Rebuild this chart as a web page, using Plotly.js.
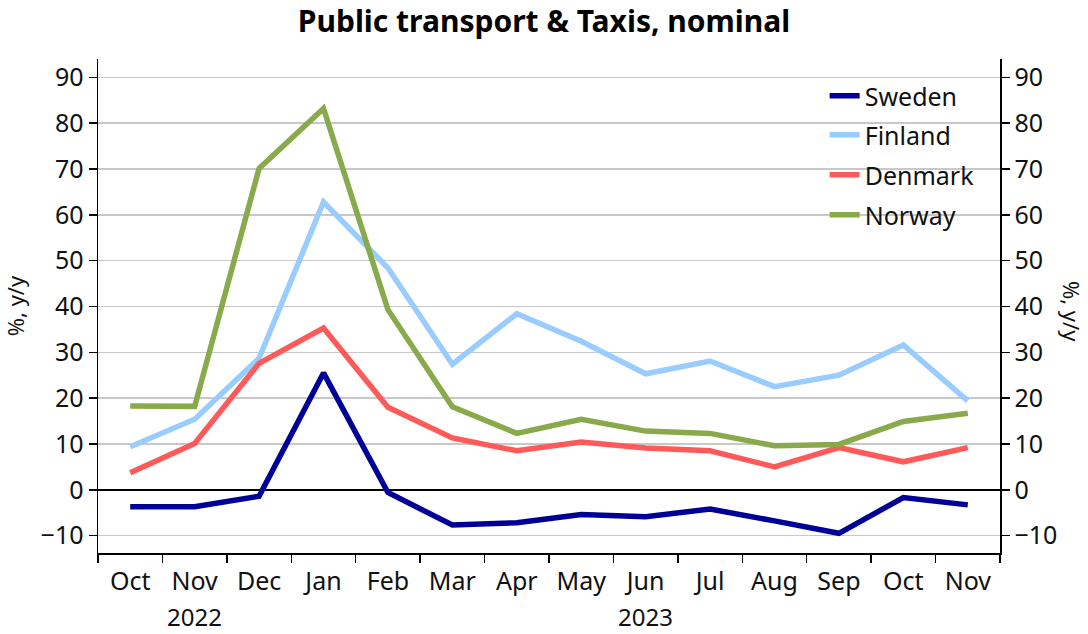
<!DOCTYPE html>
<html><head><meta charset="utf-8">
<script src="https://cdn.plot.ly/plotly-3.0.1.min.js"></script>
<style>html,body{margin:0;padding:0;background:#fff}#chart{width:1088px;height:634px}</style>
</head><body><div id="chart"></div><script>
const months = ['Oct','Nov','Dec','Jan','Feb','Mar','Apr','May','Jun','Jul','Aug','Sep','Oct','Nov'];
const yearLabels = ['2022','2023'];
const yearCenterIdx = [1, 8];
const yTicks = [-10,0,10,20,30,40,50,60,70,80,90];
const sweden  = [-3.7,-3.7,-1.4,25.5,-0.6,-7.7,-7.2,-5.4,-5.9,-4.2,-6.8,-9.5,-1.7,-3.3];
const finland = [9.4,15.4,28.7,62.8,48.4,27.4,38.4,32.4,25.3,28.1,22.5,25.0,31.6,19.4];
const denmark = [3.7,10.1,27.6,35.3,18.0,11.3,8.5,10.4,9.1,8.5,5.0,9.2,6.1,9.2];
const norway  = [18.3,18.2,70.1,83.2,39.3,18.1,12.3,15.4,12.8,12.3,9.6,9.9,14.9,16.7];
const seriesNames = ['Sweden','Finland','Denmark','Norway'];
const seriesValues = [sweden, finland, denmark, norway];
const seriesColors = ['#000099','#99CCFF','#FF5A5A','#88AA4A'];

const FONT = 'Noto Sans, Open Sans, DejaVu Sans, sans-serif';
const xIdx = months.map((m,i)=>i);
const legendIds = ['legend','legend2','legend3','legend4'];
const legendY = [0.925, 0.846, 0.765, 0.684];

const traces = seriesNames.map((n,k)=>({
  type:'scatter', mode:'lines', name:n, x:xIdx, y:seriesValues[k],
  line:{color:seriesColors[k], width:5.5}, legend:legendIds[k], cliponaxis:false
}));

const boundaries = [];
for (let i=0;i<=months.length;i++) boundaries.push(i-0.5);

const layout = {
  width:1088, height:634,
  margin:{l:98, r:88, t:59, b:81},
  paper_bgcolor:'#fff', plot_bgcolor:'#fff',
  font:{family:FONT, color:'#111', size:25},
  title:{text:'<b>Public transport & Taxis, nominal</b>', x:0.5, xanchor:'center', y:0.966, yanchor:'middle',
         font:{family:FONT, size:30, color:'#000'}},
  xaxis:{
    range:[-0.5, months.length-0.5], tickmode:'array', tickvals:xIdx, ticktext:months,
    ticks:'', showgrid:false, zeroline:false, showline:true, linecolor:'#000', linewidth:1.5,
    tickfont:{size:25, family:FONT, color:'#111'}, ticklabelstandoff:5, fixedrange:true,
    minor:{tickmode:'array', tickvals:boundaries, ticks:'outside', ticklen:8, tickwidth:1.5, tickcolor:'#000', showgrid:false}
  },
  yaxis:{
    range:[-13.8, 94.0], tickmode:'array', tickvals:yTicks, ticks:'outside', ticklen:8, tickwidth:1.5, tickcolor:'#000',
    showgrid:true, gridcolor:'#c8c8c8', gridwidth:1.5, zeroline:true, zerolinecolor:'#000', zerolinewidth:1.5,
    showline:true, linecolor:'#000', linewidth:1.5, tickfont:{size:25, family:FONT, color:'#111'},
    title:{text:'%, y/y', font:{size:22, family:FONT, color:'#111'}, standoff:12}
  },
  yaxis2:{
    range:[-13.8, 94.0], overlaying:'y', side:'right', tickmode:'array', tickvals:yTicks, ticks:'outside', ticklen:8,
    tickwidth:1.5, tickcolor:'#000', showgrid:false, zeroline:false, showline:true, linecolor:'#000', linewidth:1.5,
    tickfont:{size:25, family:FONT, color:'#111'}
  },
  annotations: yearLabels.map((t,i)=>({text:t, xref:'x', yref:'paper', x:yearCenterIdx[i], y:-0.128, yanchor:'middle',
     xanchor:'center', showarrow:false, font:{size:24, family:FONT, color:'#111'}})).concat([
     {text:'%, y/y', xref:'paper', yref:'paper', x:1, xshift:72, y:0.49, textangle:90, showarrow:false,
      xanchor:'center', yanchor:'middle', font:{size:22, family:FONT, color:'#111'}}
  ]),
  showlegend:true
};
legendIds.forEach((id,k)=>{
  layout[id] = {x:0.8056, xanchor:'left', y:legendY[k], yanchor:'middle', bgcolor:'rgba(0,0,0,0)',
    font:{size:25, family:FONT, color:'#111'}, itemwidth:30, borderwidth:0};
});
// hidden companion of one series so that the right-hand axis is drawn
traces.push({type:'scatter', mode:'lines', x:xIdx, y:sweden, yaxis:'y2', showlegend:false, hoverinfo:'skip',
  line:{color:'rgba(0,0,0,0)', width:0}});
Plotly.newPlot('chart', traces, layout, {displayModeBar:false, staticPlot:true});
</script></body></html>
